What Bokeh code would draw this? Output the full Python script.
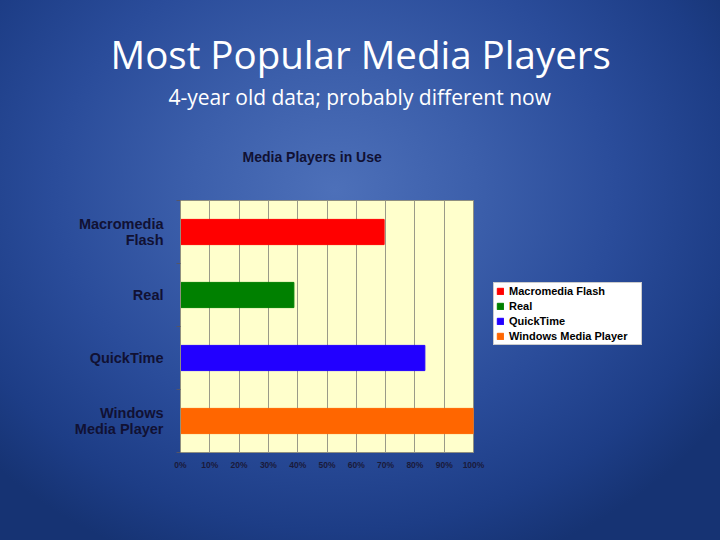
from bokeh.plotting import figure
from bokeh.models import (Range1d, FixedTicker, Title, Legend, LegendItem,
                          ColumnDataSource, NumeralTickFormatter)
from bokeh.embed import file_html
from bokeh.resources import INLINE

# ---- data ----
players = ["Macromedia Flash", "Real", "QuickTime", "Windows Media Player"]
axis_labels = ["Macromedia\nFlash", "Real", "QuickTime", "Windows\nMedia Player"]
share = [0.695, 0.387, 0.834, 1.0]
colors = ["#FF0000", "#008000", "#2200FF", "#FF6600"]
x_ticks = [0, 0.1, 0.2, 0.3, 0.4, 0.5, 0.6, 0.7, 0.8, 0.9, 1.0]

slide_title = "Most Popular Media Players"
slide_subtitle = "4-year old data; probably different now"
chart_title = "Media Players in Use"

n = len(players)
idx = [i + 0.5 for i in range(n)]

p = figure(frame_width=293, frame_height=252, output_backend="svg", toolbar_location=None,
           x_range=Range1d(0, 1), y_range=Range1d(n, 0), title=None,
           min_border_left=180, min_border_right=247,
           min_border_top=200, min_border_bottom=88)
p.styles = {"background": "radial-gradient(ellipse 470px 400px at 335px 190px, #4d70b9 0%, #3c5fab 30%, #2a4c9a 60%, #1d3d86 85%, #163373 100%)"}
p.border_fill_color = None
p.background_fill_color = "#FFFFCC"
p.outline_line_color = "#8f8f80"

renderers = []
for i in range(n):
    src = ColumnDataSource(dict(y=[idx[i]], right=[share[i]]))
    r = p.hbar(y="y", right="right", left=0, height=0.4, source=src,
               fill_color=colors[i], line_color=colors[i])
    renderers.append(r)

# x axis
p.xaxis.ticker = FixedTicker(ticks=x_ticks)
p.xaxis.formatter = NumeralTickFormatter(format="0%")
p.xaxis.major_tick_line_color = None
p.xaxis.major_tick_out = 0
p.xaxis.major_tick_in = 0
p.xaxis.minor_tick_line_color = None
p.xaxis.axis_line_color = None
p.xaxis.major_label_standoff = 7
p.xaxis.major_label_text_font = "Liberation Sans"
p.xaxis.major_label_text_font_style = "bold"
p.xaxis.major_label_text_font_size = "8.5px"
p.xaxis.major_label_text_color = "#1a1a3a"

# y axis
p.yaxis.ticker = FixedTicker(ticks=idx, minor_ticks=list(range(n + 1)))
p.yaxis.major_label_overrides = {v: lab for v, lab in zip(idx, axis_labels)}
p.yaxis.major_tick_line_color = None
p.yaxis.minor_tick_line_color = "#555566"
p.yaxis.minor_tick_out = 4
p.yaxis.minor_tick_in = 0
p.yaxis.axis_line_color = "#8f8f80"
p.yaxis.major_label_standoff = 11
p.yaxis.major_label_text_font = "Liberation Sans"
p.yaxis.major_label_text_font_style = "bold"
p.yaxis.major_label_text_font_size = "14.5px"
p.yaxis.major_label_text_line_height = 1.0
p.yaxis.major_label_text_color = "#111133"

p.xgrid.grid_line_color = "#9a9a88"
p.ygrid.grid_line_color = None

# titles stacked above the frame (first = closest to frame)
p.add_layout(Title(text=chart_title, align="left", offset=62, standoff=71,
                   text_font="Liberation Sans", text_font_style="bold",
                   text_font_size="14px", text_color="#111133"), "above")
p.add_layout(Title(text=slide_subtitle, align="left", offset=-12, standoff=1,
                   text_font="Open Sans", text_font_style="normal",
                   text_font_size="21px", text_color="white"), "above")
p.add_layout(Title(text=slide_title, align="left", offset=-70, standoff=1,
                   text_font="Open Sans", text_font_style="normal",
                   text_font_size="38.5px", text_color="white"), "above")

legend = Legend(items=[LegendItem(label=players[i], renderers=[renderers[i]]) for i in range(n)],
                location=(20, 107), orientation="vertical",
                background_fill_color="white", background_fill_alpha=1,
                border_line_color="#999999",
                label_text_font="Liberation Sans", label_text_font_style="bold",
                label_text_font_size="11px", label_text_color="#000000",
                glyph_width=8, glyph_height=8, label_height=11, label_width=130,
                label_standoff=5, spacing=3, padding=2, margin=0)
p.add_layout(legend, "right")

open("out.html", "w").write(file_html(p, INLINE))
